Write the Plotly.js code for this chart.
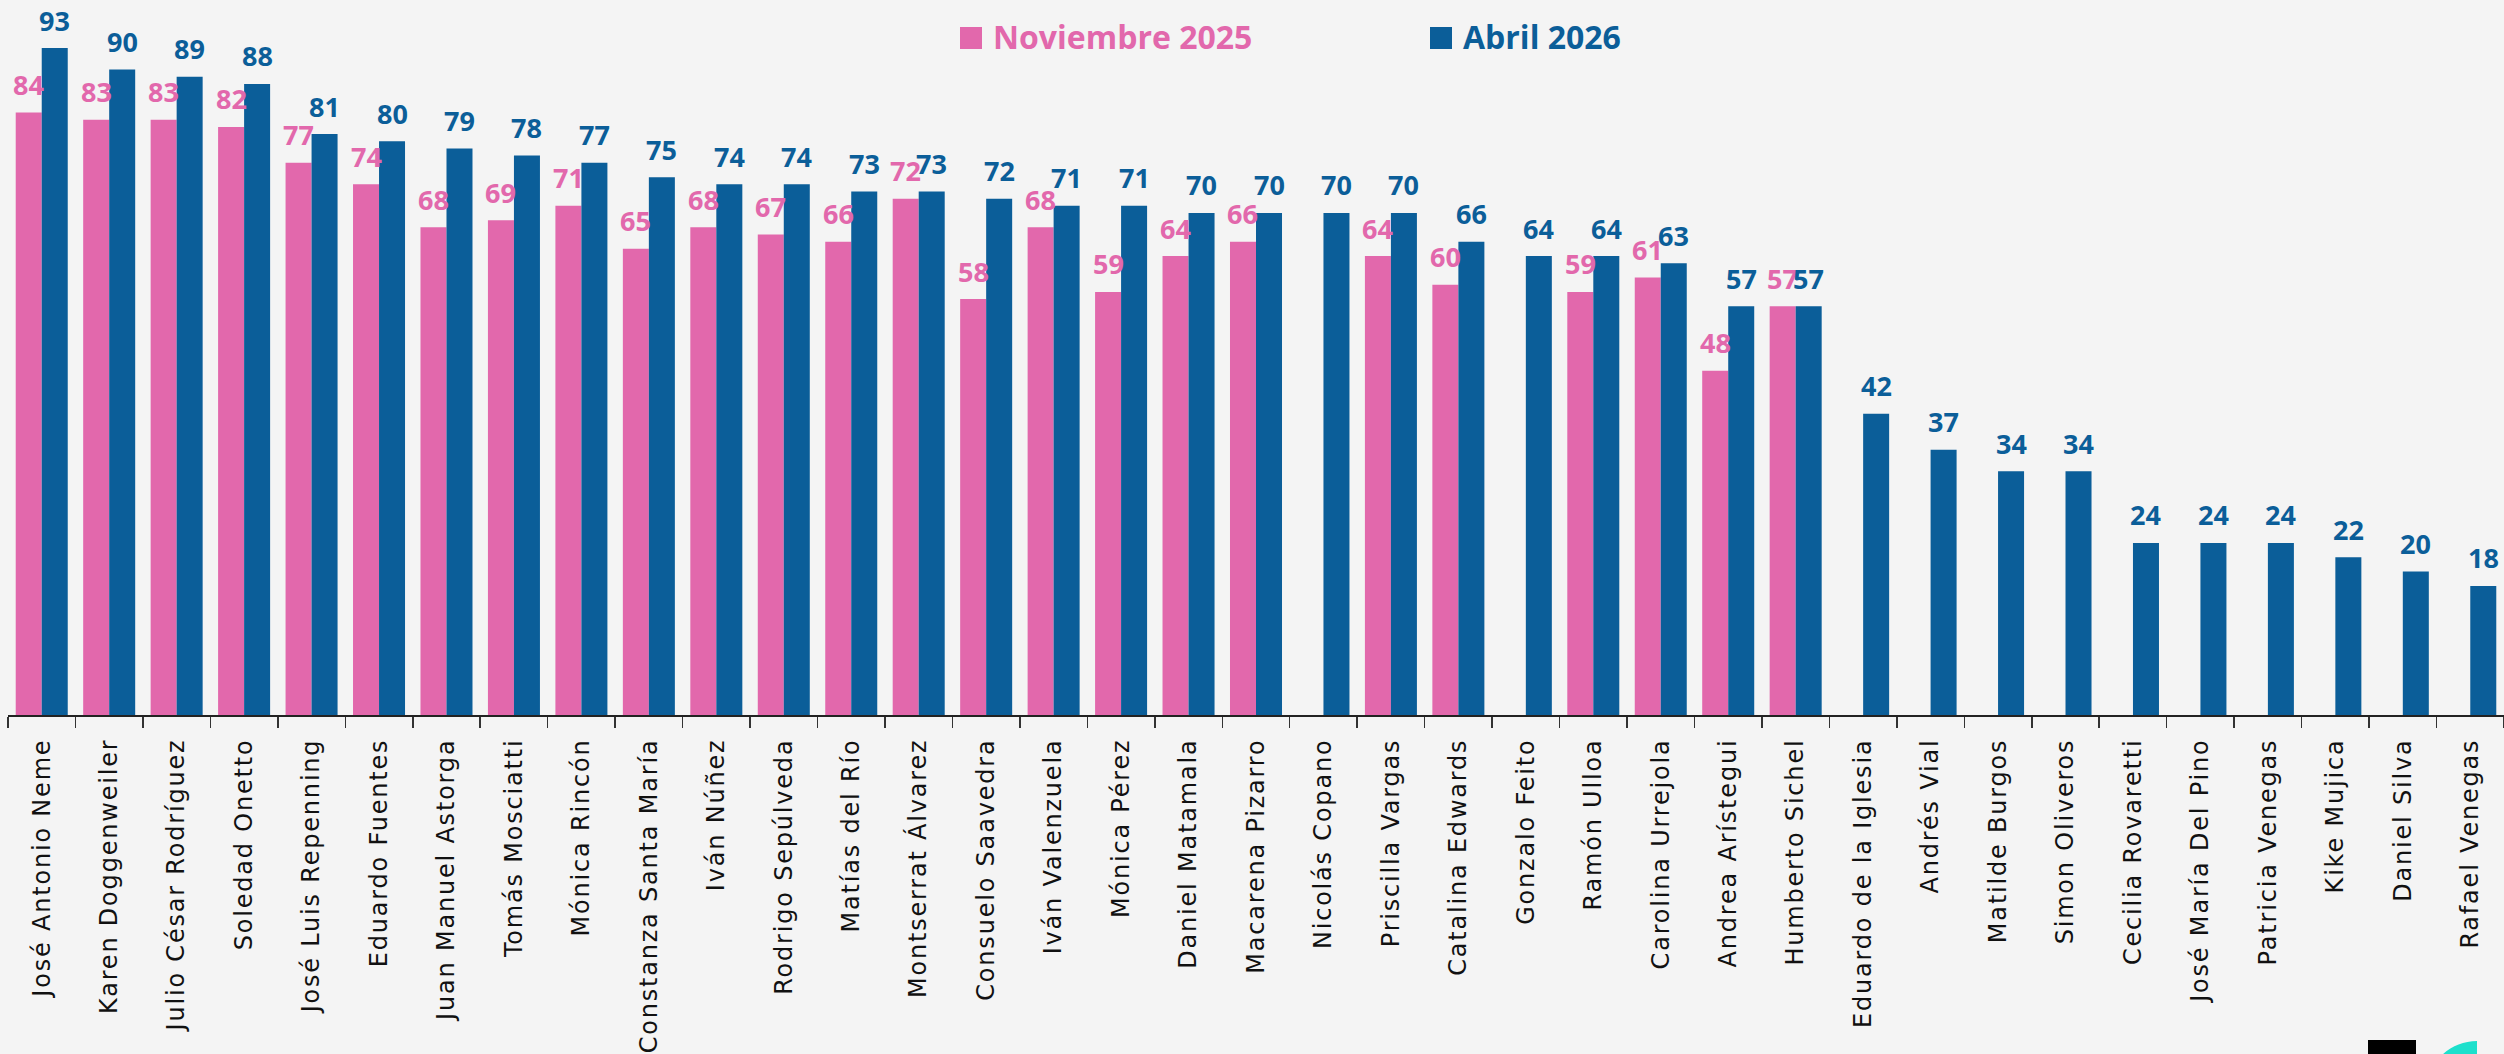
<!DOCTYPE html>
<html>
<head>
<meta charset="utf-8">
<script src="https://cdn.plot.ly/plotly-3.0.1.min.js"></script>
<style>
  html, body { margin: 0; padding: 0; background: #f4f4f4; }
  #chart { width: 2504px; height: 1054px; }
  #chart .xtick text { letter-spacing: 1.8px; }
</style>
</head>
<body>
<div id="chart"></div>
<script>
// ---- Data ----
const categories = [
  "José Antonio Neme", "Karen Doggenweiler", "Julio César Rodríguez", "Soledad Onetto",
  "José Luis Repenning", "Eduardo Fuentes", "Juan Manuel Astorga", "Tomás Mosciatti",
  "Mónica Rincón", "Constanza Santa María", "Iván Núñez", "Rodrigo Sepúlveda",
  "Matías del Río", "Montserrat Álvarez", "Consuelo Saavedra", "Iván Valenzuela",
  "Mónica Pérez", "Daniel Matamala", "Macarena Pizarro", "Nicolás Copano",
  "Priscilla Vargas", "Catalina Edwards", "Gonzalo Feito", "Ramón Ulloa",
  "Carolina Urrejola", "Andrea Arístegui", "Humberto Sichel", "Eduardo de la Iglesia",
  "Andrés Vial", "Matilde Burgos", "Simon Oliveros", "Cecilia Rovaretti",
  "José María Del Pino", "Patricia Venegas", "Kike Mujica", "Daniel Silva", "Rafael Venegas"
];
const nov2025 = [
  84, 83, 83, 82, 77, 74, 68, 69, 71, 65, 68, 67, 66, 72, 58, 68, 59, 64, 66, null,
  64, 60, null, 59, 61, 48, 57, null, null, null, null, null, null, null, null, null, null
];
const abr2026 = [
  93, 90, 89, 88, 81, 80, 79, 78, 77, 75, 74, 74, 73, 73, 72, 71, 71, 70, 70, 70,
  70, 66, 64, 64, 63, 57, 57, 42, 37, 34, 34, 24, 24, 24, 22, 20, 18
];
const seriesNames = ["Noviembre 2025", "Abril 2026"];

// ---- Style ----
const PINK = "#e268ac";
const BLUE = "#0b5e99";
const W = 2504, H = 1054;
const M = { l: 8, r: 0, t: 0, b: 339 };
const BARGAP = 0.229;
const plotW = W - M.l - M.r, plotH = H - M.t - M.b;
const catW = plotW / categories.length;
const barOffsetPx = (1 - BARGAP) * catW / 4;

// pixel -> paper helpers (for decoration only)
const px = x => (x - M.l) / plotW;
const py = y => (H - M.b - y) / plotH;

const traces = [
  { type: "bar", name: seriesNames[0], x: categories, y: nov2025,
    marker: { color: PINK }, hoverinfo: "x+y+name" },
  { type: "bar", name: seriesNames[1], x: categories, y: abr2026,
    marker: { color: BLUE }, hoverinfo: "x+y+name" }
];

const labelFont = c => ({ family: "Open Sans, sans-serif", size: 27, color: c, weight: "bold" });
const annotations = [];
function addLabels(vals, color, shift) {
  vals.forEach((v, i) => {
    if (v === null) return;
    annotations.push({
      x: categories[i], y: v, xref: "x", yref: "y", text: String(v),
      showarrow: false, xshift: shift, yshift: 28, yanchor: "middle",
      font: labelFont(color)
    });
  });
}
addLabels(nov2025, PINK, -barOffsetPx);
addLabels(abr2026, BLUE, barOffsetPx);

// custom legend (large squares)
const legendFont = c => ({ family: "Open Sans, sans-serif", size: 32, color: c, weight: "bold" });
annotations.push({
  x: px(991), y: py(37), xref: "paper", yref: "paper", xanchor: "left", yanchor: "middle",
  text: seriesNames[0], showarrow: false, font: legendFont(PINK)
});
annotations.push({
  x: px(1461), y: py(37), xref: "paper", yref: "paper", xanchor: "left", yanchor: "middle",
  text: seriesNames[1], showarrow: false, font: legendFont(BLUE)
});

const shapes = [
  { type: "rect", xref: "paper", yref: "paper", x0: px(960), x1: px(982), y0: py(27), y1: py(49),
    fillcolor: PINK, line: { width: 0 } },
  { type: "rect", xref: "paper", yref: "paper", x0: px(1430), x1: px(1452), y0: py(27), y1: py(49),
    fillcolor: BLUE, line: { width: 0 } },
  // logo fragments, bottom-right
  { type: "rect", xref: "paper", yref: "paper", x0: px(2368), x1: px(2416), y0: py(1040), y1: py(1060),
    fillcolor: "#000000", line: { width: 0 } },
  { type: "path", xref: "paper", yref: "paper",
    path: `M ${px(2477)},${py(1041)} C ${px(2449)},${py(1041)} ${px(2426)},${py(1064)} ${px(2426)},${py(1092)} L ${px(2477)},${py(1092)} Z`,
    fillcolor: "#1de0cc", line: { width: 0 } }
];

const layout = {
  width: W, height: H,
  margin: M,
  paper_bgcolor: "#f4f4f4",
  plot_bgcolor: "rgba(0,0,0,0)",
  barmode: "group",
  bargap: BARGAP,
  bargroupgap: 0,
  showlegend: false,
  xaxis: {
    type: "category",
    tickangle: -90,
    ticks: "outside", ticklen: 11, tickwidth: 1.5, tickcolor: "#333",
    tickson: "boundaries",
    showline: true, linecolor: "#222", linewidth: 2,
    showgrid: false, zeroline: false,
    ticklabelstandoff: 12,
    tickfont: { family: "DejaVu Sans, sans-serif", size: 24, color: "#111" }
  },
  yaxis: {
    range: [0, 99.7],
    visible: false, showgrid: false, zeroline: false, fixedrange: true
  },
  annotations: annotations,
  shapes: shapes
};

Plotly.newPlot("chart", traces, layout, { displayModeBar: false, staticPlot: true });
</script>
</body>
</html>
